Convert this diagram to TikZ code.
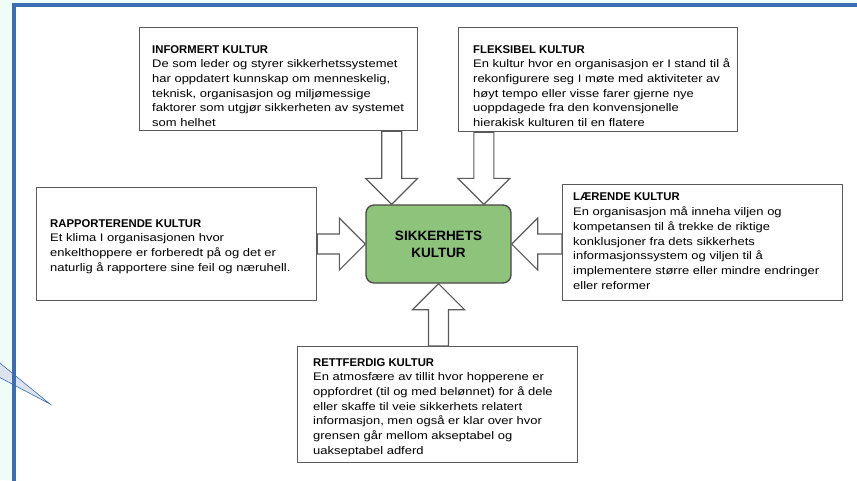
\documentclass[tikz,border=0pt]{standalone}
\usepackage{fontspec}
\setmainfont{Liberation Sans}
\newfontfamily\bodyfont[FakeStretch=1.18]{Liberation Sans}
\usetikzlibrary{positioning,calc}

\definecolor{pagecyan}{HTML}{EEFDF8}
\definecolor{frameblue}{HTML}{3B6CB4}
\definecolor{kulturgreen}{HTML}{8DC37A}
\definecolor{boxgray}{HTML}{5A5A5A}
\definecolor{calloutfill}{HTML}{DDE3EE}

\tikzset{
  kulturbox/.style={draw=boxgray, line width=1.3pt, fill=white, rectangle,
    anchor=north west, inner sep=0pt},
  kulturtext/.style={anchor=north west, inner sep=0pt, align=left,
    font=\bodyfont\fontsize{11}{14.7}\selectfont},
  bigarrow/.style={draw=boxgray, line width=1.2pt, fill=white, line join=miter},
}
\newcommand{\kultur}[2]{{\normalfont\bfseries\fontsize{11.3}{14.7}\selectfont #1}\\#2}
\newcommand{\blockarrow}[2]{%
  \draw[bigarrow] let \p1=(#1), \p2=(#2),
    \n1={atan2(\y2-\y1,\x2-\x1)}, \n2={veclen(\x2-\x1,\y2-\y1)} in
    [shift={(\p1)}, rotate=\n1]
    (0pt,-10pt) -- ({\n2-26pt},-10pt) -- ({\n2-26pt},-26pt) -- ({\n2},0pt)
    -- ({\n2-26pt},26pt) -- ({\n2-26pt},10pt) -- (0pt,10pt) -- cycle;}

\begin{document}
\begin{tikzpicture}[x=1pt, y=-1pt]
  \clip (0,0) rectangle (857,480);
  \fill[pagecyan] (0,0) rectangle (857,480);
  \fill[white] (14,5) rectangle (880,500);
  % callout tip coming in from the left
  \draw[frameblue, fill=calloutfill, line width=0.6pt] (-5,359) -- (50,404) -- (-5,375);
  \draw[frameblue, line width=3.5pt] (14,500) -- (14,5) -- (880,5);

  \node[draw=boxgray!80!black, line width=1.3pt, fill=kulturgreen, rounded corners=8pt,
    minimum width=145pt, minimum height=78pt, align=center,
    font=\bfseries\fontsize{13.5}{16.7}\selectfont] (centre) at (438.5,244)
    {SIKKERHETS\\KULTUR};

  \node[kulturbox, minimum width=278pt, minimum height=103pt] (inf) at (139,27) {};
  \node[kulturtext] (inftext) at ([xshift=13pt,yshift=-18pt]inf.north west)
    {\kultur{INFORMERT KULTUR}{De som leder og styrer sikkerhetssystemet\\
    har oppdatert kunnskap om menneskelig,\\
    teknisk, organisasjon og miljømessige\\
    faktorer som utgjør sikkerheten av systemet\\
    som helhet}};

  \node[kulturbox, minimum width=279pt, minimum height=104pt] (fle) at (458,27) {};
  \node[kulturtext] (fletext) at ([xshift=15pt,yshift=-18pt]fle.north west)
    {\kultur{FLEKSIBEL KULTUR}{En kultur hvor en organisasjon er I stand til å\\
    rekonfigurere seg I møte med aktiviteter av\\
    høyt tempo eller visse farer gjerne nye\\
    uoppdagede fra den konvensjonelle\\
    hierakisk kulturen til en flatere}};

  \node[kulturbox, minimum width=280pt, minimum height=113pt] (rap) at (36,187) {};
  \node[kulturtext] (raptext) at ([xshift=14pt,yshift=-32pt]rap.north west)
    {\kultur{RAPPORTERENDE KULTUR}{Et klima I organisasjonen hvor\\
    enkelthoppere er forberedt på og det er\\
    naturlig å rapportere sine feil og næruhell.}};

  \node[kulturbox, minimum width=280pt, minimum height=116pt] (lae) at (562,184) {};
  \node[kulturtext] (laetext) at ([xshift=11pt,yshift=-9pt]lae.north west)
    {\kultur{LÆRENDE KULTUR}{En organisasjon må inneha viljen og\\
    kompetansen til å trekke de riktige\\
    konklusjoner fra dets sikkerhets\\
    informasjonssystem og viljen til å\\
    implementere større eller mindre endringer\\
    eller reformer}};

  \node[kulturbox, minimum width=280pt, minimum height=116pt] (ret) at (297,346) {};
  \node[kulturtext] (rettext) at ([xshift=16pt,yshift=-12pt]ret.north west)
    {\kultur{RETTFERDIG KULTUR}{En atmosfære av tillit hvor hopperene er\\
    oppfordret (til og med belønnet) for å dele\\
    eller skaffe til veie sikkerhets relatert\\
    informasjon, men også er klar over hvor\\
    grensen går mellom akseptabel og\\
    uakseptabel adferd}};

  \coordinate (infin) at ($(centre.north west)!0.18!(centre.north east)$);
  \coordinate (flein) at ($(centre.north west)!0.81!(centre.north east)$);
  \blockarrow{inf.south -| infin}{infin}
  \blockarrow{fle.south -| flein}{flein}
  \blockarrow{rap.east |- centre.west}{centre.west}
  \blockarrow{lae.west |- centre.east}{centre.east}
  \blockarrow{ret.north -| centre.south}{centre.south}
\end{tikzpicture}
\end{document}
